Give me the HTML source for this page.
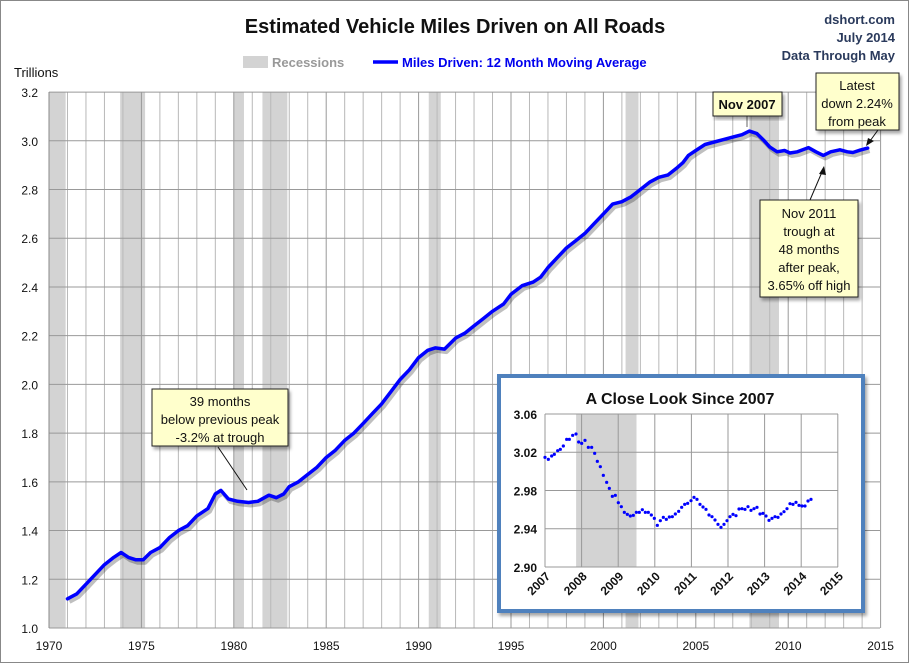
<!DOCTYPE html>
<html><head><meta charset="utf-8">
<style>
html,body{margin:0;padding:0;background:#fff;}
svg{display:block;font-family:"Liberation Sans",sans-serif;}
</style></head>
<body>
<svg id="s" width="910" height="664" viewBox="0 0 910 664" xmlns="http://www.w3.org/2000/svg">
<defs>
<filter id="sh" x="-10%" y="-10%" width="130%" height="130%"><feDropShadow dx="2" dy="3" stdDeviation="1.5" flood-color="#000" flood-opacity="0.35"/></filter>
</defs>
<rect x="0.5" y="0.5" width="908" height="662" fill="#fff" stroke="#888"/>
<g id="rec"></g>
<g id="grid"></g>
<g id="main"></g>
<text x="455" y="33" text-anchor="middle" font-size="20" font-weight="bold" fill="#111">Estimated Vehicle Miles Driven on All Roads</text>
<g font-size="13" font-weight="bold" fill="#2a3a5c" text-anchor="end">
<text x="895" y="24">dshort.com</text>
<text x="895" y="42">July 2014</text>
<text x="895" y="60">Data Through May</text>
</g>
<rect x="243" y="56" width="25" height="12" fill="#d3d3d3"/>
<text x="272" y="67" font-size="13" font-weight="bold" fill="#999">Recessions</text>
<line x1="373" y1="62" x2="398" y2="62" stroke="#0000ff" stroke-width="3.5"/>
<text x="402" y="67" font-size="13" font-weight="bold" fill="#0000ee">Miles Driven: 12 Month Moving Average</text>
<text x="14" y="77" font-size="13" fill="#111">Trillions</text>
<!-- callouts -->
<line x1="747" y1="116" x2="747" y2="127" stroke="#666"/>
<rect x="713" y="92" width="69" height="24" fill="#ffffcc" stroke="#222" filter="url(#sh)"/>
<text x="747" y="109" text-anchor="middle" font-size="13" font-weight="bold" fill="#111">Nov 2007</text>
<line x1="878" y1="130" x2="870" y2="141" stroke="#111"/><polygon points="866,146 868,138 874,141" fill="#111"/>
<rect x="816" y="73" width="83" height="57" fill="#ffffcc" stroke="#222" filter="url(#sh)"/>
<g font-size="13" fill="#111" text-anchor="middle"><text x="857" y="90">Latest</text><text x="857" y="108">down 2.24%</text><text x="857" y="126">from peak</text></g>
<line x1="810" y1="200" x2="822" y2="172" stroke="#111"/><polygon points="824,166 819,174 826,175" fill="#111"/>
<rect x="760" y="200" width="98" height="97" fill="#ffffcc" stroke="#222" filter="url(#sh)"/>
<g font-size="13" fill="#111" text-anchor="middle"><text x="809" y="218">Nov 2011</text><text x="809" y="236">trough at</text><text x="809" y="254">48 months</text><text x="809" y="272">after peak,</text><text x="809" y="290">3.65% off high</text></g>
<line x1="218" y1="447" x2="247" y2="490" stroke="#111"/>
<rect x="152" y="389" width="136" height="57" fill="#ffffcc" stroke="#222" filter="url(#sh)"/>
<g font-size="13" fill="#111" text-anchor="middle"><text x="220" y="406">39 months</text><text x="220" y="424">below previous peak</text><text x="220" y="442">-3.2% at trough</text></g>
<!-- inset -->
<rect x="499" y="376" width="364" height="235" fill="#fff" stroke="#4f81bd" stroke-width="4" filter="url(#sh)"/>
<text x="680" y="404" text-anchor="middle" font-size="16" font-weight="bold" fill="#111">A Close Look Since 2007</text>
<g id="inset"></g>
</svg>
<script>
const NS="http://www.w3.org/2000/svg";
function el(p,t,a,txt){const e=document.createElementNS(NS,t);for(const k in a)e.setAttribute(k,a[k]);if(txt!==undefined)e.textContent=txt;document.getElementById(p).appendChild(e);return e;}
const X=y=>49+(y-1970)*18.48, Y=v=>628-(v-1)*243.6;
[[1970,1970.9],[1973.85,1975.2],[1980,1980.55],[1981.55,1982.9],[1990.55,1991.2],[2001.2,2001.9],[2007.9,2009.5]].forEach(r=>el("rec","rect",{x:X(r[0]),y:92,width:X(r[1])-X(r[0]),height:536,fill:"#d3d3d3"}));
for(let y=1970;y<=2015;y++){el("grid","line",{x1:X(y),y1:92,x2:X(y),y2:628,stroke:y%5==0?"#999":"#b8b8b8","stroke-width":1});
 if(y%5==0)el("grid","text",{x:X(y),y:650,"text-anchor":"middle","font-size":12,fill:"#111"},y);}
for(let i=0;i<=11;i++){const v=1+i*0.2;el("grid","line",{x1:49,y1:Y(v),x2:880,y2:Y(v),stroke:"#999"});
 el("grid","text",{x:38,y:Y(v)+5,"text-anchor":"end","font-size":12,fill:"#111"},v.toFixed(1));}
el("grid","line",{x1:49,y1:92,x2:49,y2:628,stroke:"#888"});
const d=[[1971,1.12],[1971.5,1.14],[1972,1.18],[1972.5,1.22],[1973,1.26],[1973.5,1.29],[1973.9,1.31],[1974.3,1.29],[1974.7,1.28],[1975.1,1.28],[1975.5,1.31],[1976,1.33],[1976.5,1.37],[1977,1.40],[1977.5,1.42],[1978,1.46],[1978.6,1.49],[1979.0,1.55],[1979.3,1.565],[1979.7,1.53],[1980.2,1.52],[1980.8,1.515],[1981.3,1.52],[1981.9,1.545],[1982.3,1.535],[1982.7,1.55],[1983,1.58],[1983.5,1.60],[1984,1.63],[1984.5,1.66],[1985,1.70],[1985.5,1.73],[1986,1.77],[1986.5,1.80],[1987,1.84],[1987.5,1.88],[1988,1.92],[1988.5,1.97],[1989,2.02],[1989.5,2.06],[1990,2.11],[1990.5,2.14],[1990.9,2.15],[1991.4,2.145],[1992,2.19],[1992.5,2.21],[1993,2.24],[1993.5,2.27],[1994,2.30],[1994.6,2.33],[1995,2.37],[1995.6,2.405],[1996.2,2.42],[1996.6,2.44],[1997,2.48],[1997.5,2.52],[1998,2.56],[1998.5,2.59],[1999,2.62],[1999.5,2.66],[2000,2.70],[2000.5,2.74],[2001,2.75],[2001.5,2.77],[2002,2.80],[2002.5,2.83],[2003,2.85],[2003.5,2.86],[2004,2.89],[2004.3,2.91],[2004.6,2.94],[2005,2.96],[2005.5,2.985],[2006,2.995],[2006.5,3.005],[2007,3.015],[2007.5,3.025],[2007.9,3.04],[2008.3,3.03],[2008.7,3.0],[2009.0,2.975],[2009.4,2.955],[2009.8,2.96],[2010.1,2.95],[2010.5,2.955],[2011.1,2.972],[2011.5,2.955],[2011.9,2.94],[2012.3,2.955],[2012.8,2.963],[2013.2,2.955],[2013.5,2.952],[2013.9,2.962],[2014.3,2.97]];
const p=d.map((q,i)=>(i?"L":"M")+X(q[0]).toFixed(1)+","+Y(q[1]).toFixed(1)).join(" ");
el("main","path",{d:p,fill:"none",stroke:"#000","stroke-opacity":0.25,"stroke-width":4,transform:"translate(2,3)","stroke-linejoin":"round"});
el("main","path",{d:p,fill:"none",stroke:"#0000ff","stroke-width":3.5,"stroke-linejoin":"round","stroke-linecap":"round"});
// inset
const IX=y=>545+(y-2007)*36.6, IY=v=>414+(3.06-v)*956;
el("inset","rect",{x:IX(2007.85),y:414,width:IX(2009.5)-IX(2007.85),height:153,fill:"#d3d3d3"});
for(let y=2007;y<=2015;y++){el("inset","line",{x1:IX(y),y1:414,x2:IX(y),y2:567,stroke:"#999"});
 el("inset","text",{"font-size":12,"font-weight":"bold",fill:"#111","text-anchor":"end",transform:`translate(${IX(y)+6},${577}) rotate(-45)`},y);}
[3.06,3.02,2.98,2.94,2.90].forEach(v=>{el("inset","line",{x1:545,y1:IY(v),x2:838,y2:IY(v),stroke:"#999"});
 el("inset","text",{x:537,y:IY(v)+5,"text-anchor":"end","font-size":12,"font-weight":"bold",fill:"#111"},v.toFixed(2));});
const dots=[[165,262],[175,268],[185,258],[193,253],[203,242],[211,238],[220,228],[230,208],[238,208],[248,196],[258,192],[266,216],[275,220],[285,211],[295,232],[305,232],[314,250],[322,274],[331,290],[340,316],[350,337],[358,355],[367,379],[376,376],[385,398],[394,410],[403,427],[412,433],[421,438],[430,436],[439,427],[448,427],[457,419],[466,427],[475,427],[484,435],[493,445],[502,466],[511,452],[520,442],[529,448],[538,441],[547,440],[556,432],[566,424],[575,412],[584,403],[593,400],[603,392],[612,382],[621,388],[630,403],[639,411],[648,418],[657,435],[666,440],[675,450],[684,463],[693,472],[702,463],[711,452],[720,440],[729,433],[738,437],[747,417],[756,416],[765,418],[774,410],[783,421],[792,416],[801,412],[810,432],[819,430],[828,438],[837,451],[846,445],[855,440],[864,442],[873,432],[882,425],[891,416],[900,401],[909,403],[918,397],[927,406],[936,408],[945,408],[954,393],[963,388]];
dots.forEach(q=>el("inset","circle",{cx:490+q[0]/3,cy:370+q[1]/3,r:1.6,fill:"#0000ff"}));
</script>
</body></html>
